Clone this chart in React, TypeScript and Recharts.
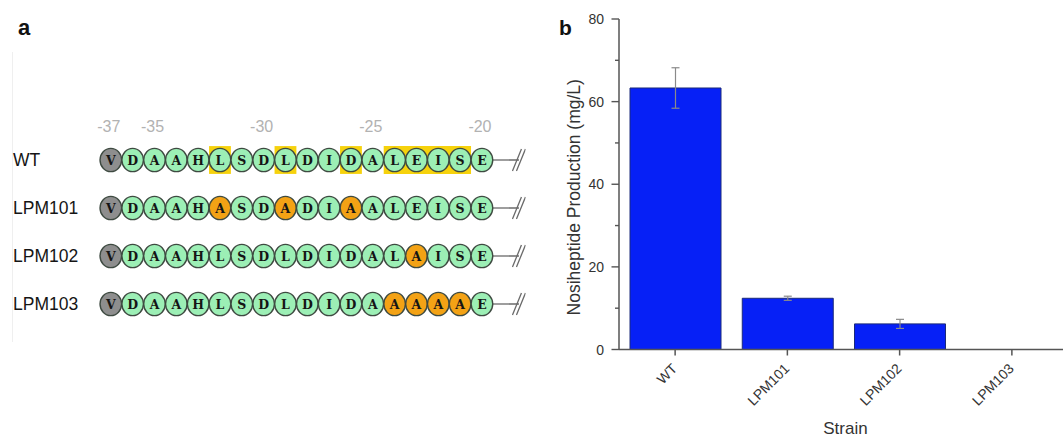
import React from 'react';
import {
  ScatterChart,
  Scatter,
  XAxis,
  YAxis,
  ReferenceArea,
  BarChart,
  Bar,
  ErrorBar,
} from 'recharts';

// ---------- Panel a data ----------
const strains = ['WT', 'LPM101', 'LPM102', 'LPM103'];
const sequences = [
  'VDAAHLSDLDIDALEISE',
  'VDAAHASDADIAALEISE',
  'VDAAHLSDLDIDALAISE',
  'VDAAHLSDLDIDAAAAAE',
];
const firstPosition = -37;
const positionTicks = [-37, -35, -30, -25, -20];
// highlighted (yellow) residue ranges in the WT row [from, to]
const highlightRanges = [
  [-32, -32],
  [-29, -29],
  [-26, -26],
  [-24, -21],
];
const breakPosition = -18.35;

// ---------- Panel b data ----------
const barStrains = ['WT', 'LPM101', 'LPM102', 'LPM103'];
const production = [63.3, 12.4, 6.2, 0];
const productionError = [4.9, 0.5, 1.1, 0];
const yTicks = [0, 10, 20, 30, 40, 50, 60, 70, 80];

const residueData = strains.flatMap((s, row) =>
  sequences[row].split('').map((aa, i) => ({
    pos: firstPosition + i,
    row,
    aa,
    kind: i === 0 ? 'anchor' : aa !== sequences[0][i] ? 'mutant' : 'native',
  }))
);
const breakData = strains.map((s, row) => ({ pos: breakPosition, row }));
const barData = barStrains.map((s, i) => ({
  strain: s,
  value: production[i],
  err: productionError[i],
}));

const SANS = '"Liberation Sans", Arial, Helvetica, sans-serif';

const fills: Record<string, string> = {
  anchor: '#8e8e8e',
  mutant: '#f3a215',
  native: '#9cefb5',
};

const ResidueShape = (props: any) => {
  const { cx, cy, payload } = props;
  return (
    <g>
      <ellipse
        cx={cx}
        cy={cy}
        rx={10.8}
        ry={11.6}
        fill={fills[payload.kind]}
        stroke="#3e4a41"
        strokeWidth={1.4}
      />
      <text
        x={cx}
        y={cy + 4.6}
        textAnchor="middle"
        fontFamily='"DejaVu Serif", serif'
        fontWeight="bold"
        fontSize={12.5}
        fill="#151515"
      >
        {payload.aa}
      </text>
    </g>
  );
};

const BreakShape = (props: any) => {
  const { cx, cy } = props;
  return (
    <g stroke="#6a6a6a" strokeWidth={1.3} fill="none">
      <line x1={cx - 25} y1={cy} x2={cx + 1} y2={cy} />
      <line x1={cx - 5.5} y1={cy + 11} x2={cx + 3.5} y2={cy - 11} />
      <line x1={cx - 1.5} y1={cy + 11} x2={cx + 7.5} y2={cy - 11} />
    </g>
  );
};

const PositionTick = (props: any) => {
  const { x, y, payload } = props;
  return (
    <text
      x={x - 2}
      y={y + 19.5}
      textAnchor="middle"
      fontFamily={SANS}
      fontSize={16}
      fill="#b2b2b2"
    >
      {payload.value}
    </text>
  );
};

const StrainRowTick = (props: any) => {
  const { y, payload } = props;
  return (
    <text x={13} y={y + 6} textAnchor="start" fontFamily={SANS} fontSize={17.5} fill="#151515">
      {strains[payload.value]}
    </text>
  );
};

const ValueTick = (props: any) => {
  const { x, y, payload } = props;
  const major = payload.value % 20 === 0;
  return (
    <g>
      <line x1={x - (major ? 7.5 : 4)} y1={y} x2={x} y2={y} stroke="#555" strokeWidth={1.4} />
      {major && (
        <text x={x - 15} y={y + 5} textAnchor="end" fontFamily={SANS} fontSize={14} fill="#333">
          {payload.value}
        </text>
      )}
    </g>
  );
};

const CategoryTick = (props: any) => {
  const { x, y, payload } = props;
  return (
    <text
      transform={`translate(${x + 3},${y + 12}) rotate(-45)`}
      textAnchor="end"
      fontFamily={SANS}
      fontSize={14}
      fill="#333"
    >
      {payload.value}
    </text>
  );
};

const YTitle = (props: any) => {
  const vb = props.viewBox || { x: 0, y: 19, width: 79, height: 330.5 };
  const cx = vb.x + 40;
  const cy = vb.y + vb.height / 2 + 13;
  return (
    <text
      x={cx}
      y={cy}
      transform={`rotate(-90 ${cx} ${cy})`}
      textAnchor="middle"
      fontFamily={SANS}
      fontSize={17.5}
      fill="#333"
    >
      Nosiheptide Production (mg/L)
    </text>
  );
};

const XTitle = (props: any) => {
  const vb = props.viewBox || { x: 79, y: 349.5, width: 449, height: 70 };
  return (
    <text
      x={vb.x + vb.width / 2 + 2}
      y={vb.y + 84.5}
      textAnchor="middle"
      fontFamily={SANS}
      fontSize={17}
      fill="#333"
    >
      Strain
    </text>
  );
};

export default function App() {
  return (
    <div
      style={{
        position: 'fixed',
        left: 0,
        top: 0,
        width: 1063,
        height: 439,
        overflow: 'hidden',
        background: '#fff',
        fontFamily: SANS,
      }}
    >
      <div style={{ position: 'absolute', left: 12, top: 52, width: 1, height: 290, background: '#efefef' }} />
      <div style={{ position: 'absolute', left: 0, top: 0 }}>
        <ScatterChart width={540} height={439} margin={{ top: 92, right: 14.4, bottom: 87, left: 0 }}>
          <XAxis
            type="number"
            dataKey="pos"
            domain={[-38, -18]}
            orientation="top"
            ticks={positionTicks}
            height={20}
            tickSize={0}
            tickMargin={0}
            axisLine={false}
            tickLine={false}
            allowDataOverflow
            interval={0}
            tick={PositionTick}
          />
          <YAxis
            type="number"
            dataKey="row"
            domain={[-1, 4]}
            reversed
            ticks={[0, 1, 2, 3]}
            width={89}
            axisLine={false}
            tickLine={false}
            tickSize={0}
            interval={0}
            tick={StrainRowTick}
          />
          {highlightRanges.map(([a, b], i) => (
            <ReferenceArea
              key={i}
              x1={a - 0.5}
              x2={b + 0.5}
              y1={-0.29}
              y2={0.29}
              fill="#f6d20c"
              fillOpacity={1}
              stroke="none"
            />
          ))}
          <Scatter data={breakData} shape={BreakShape} isAnimationActive={false} />
          <Scatter data={residueData} shape={ResidueShape} isAnimationActive={false} />
        </ScatterChart>
      </div>
      <div style={{ position: 'absolute', left: 540, top: 0 }}>
        <BarChart
          width={540}
          height={439}
          data={barData}
          margin={{ top: 19, right: 12, bottom: 19.5, left: 0 }}
        >
          <XAxis
            dataKey="strain"
            height={70}
            interval={0}
            tickSize={6}
            tickLine={{ stroke: '#555', strokeWidth: 1.5 }}
            axisLine={{ stroke: '#555', strokeWidth: 1.5 }}
            tick={CategoryTick}
            label={{ content: XTitle }}
          />
          <YAxis
            type="number"
            domain={[0, 80]}
            ticks={yTicks}
            interval={0}
            width={79}
            tickSize={0}
            tickMargin={0}
            tickLine={false}
            axisLine={{ stroke: '#555', strokeWidth: 1.5 }}
            tick={ValueTick}
            label={{ content: YTitle }}
          />
          <Bar
            dataKey="value"
            fill="#0620f6"
            stroke="#1b2a7a"
            strokeWidth={1}
            barSize={91}
            isAnimationActive={false}
          >
            <ErrorBar dataKey="err" width={4} stroke="#8a8a8a" strokeWidth={1.2} />
          </Bar>
        </BarChart>
      </div>
      <div style={{ position: 'absolute', left: 18, top: 17, fontSize: 22, fontWeight: 'bold', lineHeight: 1, color: '#111' }}>a</div>
      <div style={{ position: 'absolute', left: 559, top: 17, fontSize: 21, fontWeight: 'bold', lineHeight: 1, color: '#111' }}>b</div>
    </div>
  );
}
